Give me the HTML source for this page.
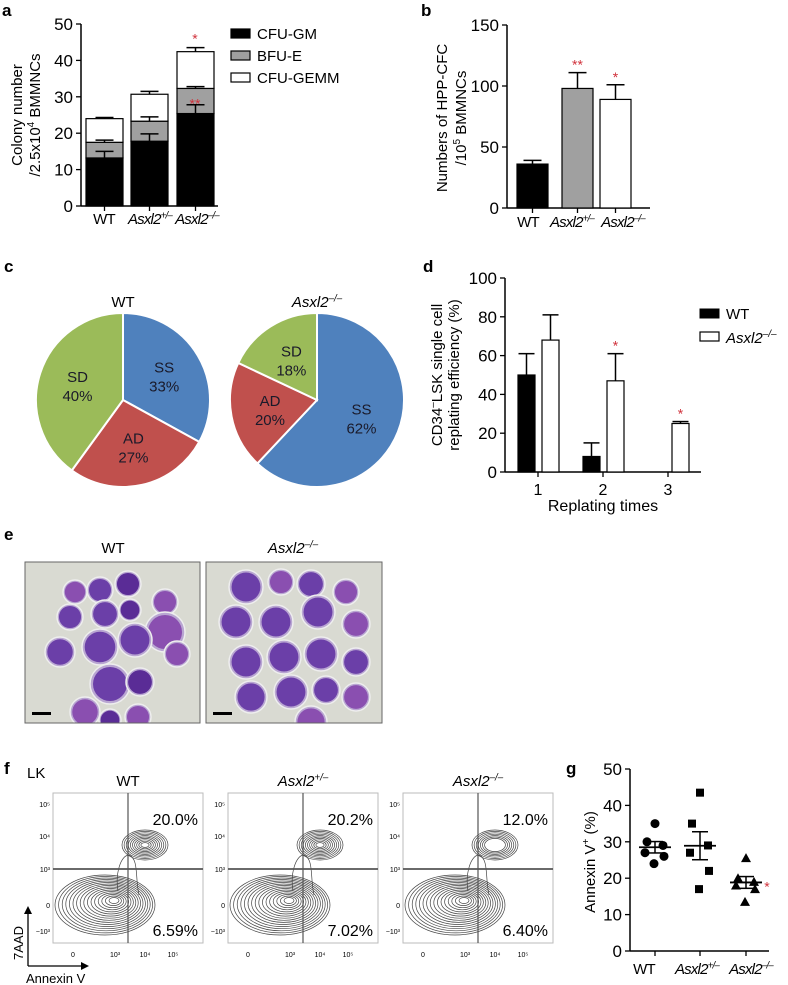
<!DOCTYPE html>
<html><head><meta charset="utf-8"><style>
body{margin:0;background:#fff}
svg{display:block;font-family:"Liberation Sans",Arial,sans-serif}
</style></head><body>
<svg id="fig" width="788" height="985" viewBox="0 0 788 985" xmlns="http://www.w3.org/2000/svg">
<defs>
<clipPath id="clipWT"><rect x="25" y="562" width="175" height="161"/></clipPath>
<clipPath id="clipKO"><rect x="206" y="562" width="176" height="161"/></clipPath>
</defs>
<g font-weight="bold" font-size="17">
<text x="2" y="16">a</text>
<text x="421" y="16">b</text>
<text x="4" y="272">c</text>
<text x="423" y="272">d</text>
<text x="4" y="540">e</text>
<text x="4" y="774">f</text>
<text x="566" y="774">g</text>
</g>
<g id="ga"></g><g id="gb"></g><g id="gc"></g><g id="gd"></g><g id="ge"></g><g id="gf"></g><g id="gg"></g>
</svg>
<script>
// Panel a data
const aCats=["WT","Asxl2+/-","Asxl2-/-"];
const aGM=[13.2,17.8,25.4];
const aBFU=[4.3,5.5,6.9];
const aGEMM=[6.5,7.4,10.1];
const aErrGM=[1.8,2.0,2.4];
const aErrBFU=[0.6,1.2,0.5];
const aErrGEMM=[0.3,0.8,1.1];
const aTicks=[0,10,20,30,40,50];
// Panel b
const bVals=[36,98,89];
const bErr=[3,13,12];
const bTicks=[0,50,100,150];
// Panel c
const cLabels=["SS","AD","SD"];
const cWT=[33,27,40];
const cKO=[62,20,18];
// Panel d
const dCats=[1,2,3];
const dWT=[50,8,0];
const dKO=[68,47,25];
const dErrWT=[11,7,0];
const dErrKO=[13,14,1];
const dTicks=[0,20,40,60,80,100];
// Panel f
const fTop=["20.0%","20.2%","12.0%"];
const fBot=["6.59%","7.02%","6.40%"];
// Panel g
const gWT=[35,30,29,27,26,24];
const gHet=[43.5,35,29,27,22,17];
const gKO=[25.5,20,19,18,17,13.5];
const gTicks=[0,10,20,30,40,50];

const NS="http://www.w3.org/2000/svg";
function el(parent,tag,attrs,text){const e=document.createElementNS(NS,tag);for(const k in attrs)e.setAttribute(k,attrs[k]);if(text!==undefined)e.textContent=text;parent.appendChild(e);return e;}
function genoLabel(parent,x,y,g,fs,ls){
  const t=el(parent,'text',{x:x,y:y,'font-size':fs,'text-anchor':'middle','letter-spacing':ls||0});
  if(g==="WT"){t.textContent="WT";}else{
    el(t,'tspan',{'font-style':'italic'},'Asxl2');
    el(t,'tspan',{'font-style':'italic','font-size':fs*0.65,dy:-fs*0.38},g==="+/-"?"+/\u2013":"\u2013/\u2013");
  }
  return t;
}
function star(parent,x,y,s){const t=el(parent,'text',{x:x,y:y,fill:'#d0303a','font-size':14,'text-anchor':'middle'},s);}

// ---------- Panel a
(function(){
const g=document.getElementById('ga');
const x0=81,yb=206,yt=24,ymax=50;
const Y=v=>yb-(v/ymax)*(yb-yt);
const bx=[86,131,177],bw=37;
aTicks.forEach(t=>{el(g,'line',{x1:x0-5,x2:x0,y1:Y(t),y2:Y(t),stroke:'#000','stroke-width':1.3});el(g,'text',{x:x0-8,y:Y(t)+6,'font-size':17,'text-anchor':'end'},t);});
el(g,'line',{x1:x0,x2:x0,y1:yt,y2:yb,stroke:'#000','stroke-width':1.5});
el(g,'line',{x1:x0,x2:218,y1:yb,y2:yb,stroke:'#000','stroke-width':1.5});
const yl=el(g,'text',{transform:'translate(22,115) rotate(-90)','font-size':15,'text-anchor':'middle'},'Colony number');

const yl2=el(g,'text',{transform:'translate(40,115) rotate(-90)','font-size':15,'text-anchor':'middle'});
el(yl2,'tspan',{},'/2.5x10');el(yl2,'tspan',{'font-size':10,dy:-6},'4');el(yl2,'tspan',{dy:6},' BMMNCs');
function eb(cx,v,e){el(g,'line',{x1:cx,x2:cx,y1:Y(v),y2:Y(v+e),stroke:'#000','stroke-width':1.5});el(g,'line',{x1:cx-9,x2:cx+9,y1:Y(v+e),y2:Y(v+e),stroke:'#000','stroke-width':1.5});}
aCats.forEach((c,i)=>{
  const x=bx[i],cx=x+bw/2;
  el(g,'line',{x1:cx,x2:cx,y1:yb,y2:yb+5,stroke:'#000','stroke-width':1.3});
  const s1=aGM[i],s2=s1+aBFU[i],s3=s2+aGEMM[i];
  const r1=el(g,'rect',{x:x,y:Y(s1),width:bw,height:Y(0)-Y(s1),fill:'#000',stroke:'#000','stroke-width':1.2});
  
  const r2=el(g,'rect',{x:x,y:Y(s2),width:bw,height:Y(s1)-Y(s2),fill:'#a0a0a0',stroke:'#000','stroke-width':1.2});
  
  const r3=el(g,'rect',{x:x,y:Y(s3),width:bw,height:Y(s2)-Y(s3),fill:'#fff',stroke:'#000','stroke-width':1.2});
  
  eb(cx,s1,aErrGM[i]);eb(cx,s2,aErrBFU[i]);eb(cx,s3,aErrGEMM[i]);
  const t=genoLabel(g,[104,150,197][i],224,["WT","+/-","-/-"][i],15,-0.8);
  
});
star(g,195,Y(aGM[2]+aBFU[2])+20,'**');
star(g,195,Y(aGM[2]+aBFU[2]+aGEMM[2]+aErrGEMM[2])-4,'*');
[['CFU-GM','#000'],['BFU-E','#a0a0a0'],['CFU-GEMM','#fff']].forEach((l,i)=>{
  const lg=el(g,'g',{});
  el(lg,'rect',{x:231,y:29+i*22,width:19,height:9,fill:l[1],stroke:'#000','stroke-width':1.2});
  el(lg,'text',{x:257,y:39+i*22,'font-size':15},l[0]);
});
})();

// ---------- Panel b
(function(){
const g=document.getElementById('gb');
const x0=507,yb=208,yt=25,ymax=150;
const Y=v=>yb-(v/ymax)*(yb-yt);
const bx=[517,562,600],bw=31,fills=['#000','#a0a0a0','#fff'];
bTicks.forEach(t=>{el(g,'line',{x1:x0-5,x2:x0,y1:Y(t),y2:Y(t),stroke:'#000','stroke-width':1.3});el(g,'text',{x:x0-8,y:Y(t)+6,'font-size':17,'text-anchor':'end'},t);});
el(g,'line',{x1:x0,x2:x0,y1:yt,y2:yb,stroke:'#000','stroke-width':1.5});
el(g,'line',{x1:x0,x2:650,y1:yb,y2:yb,stroke:'#000','stroke-width':1.5});
const t1=el(g,'text',{transform:'translate(447,118) rotate(-90)','font-size':15,'text-anchor':'middle'},'Numbers of HPP-CFC');

const t2=el(g,'text',{transform:'translate(466,118) rotate(-90)','font-size':15,'text-anchor':'middle'});
el(t2,'tspan',{},'/10');el(t2,'tspan',{'font-size':10,dy:-6},'5');el(t2,'tspan',{dy:6},' BMMNCs');
bVals.forEach((v,i)=>{
  const cx=bx[i]+bw/2;
  el(g,'line',{x1:cx,x2:cx,y1:Y(v),y2:Y(v+bErr[i]),stroke:'#000','stroke-width':1.5});
  el(g,'line',{x1:cx-9,x2:cx+9,y1:Y(v+bErr[i]),y2:Y(v+bErr[i]),stroke:'#000','stroke-width':1.5});
  const r=el(g,'rect',{x:bx[i],y:Y(v),width:bw,height:Y(0)-Y(v),fill:fills[i],stroke:'#000','stroke-width':1.2});
  
  el(g,'line',{x1:cx,x2:cx,y1:yb,y2:yb+5,stroke:'#000','stroke-width':1.3});
  const t=genoLabel(g,[528,572,623][i],227,["WT","+/-","-/-"][i],15,-0.8);
  
});
star(g,bx[1]+bw/2,Y(bVals[1]+bErr[1])-3,'**');
star(g,bx[2]+bw/2,Y(bVals[2]+bErr[2])-3,'*');
})();

// ---------- Panel c
(function(){
const g=document.getElementById('gc');
const cols=['#4f81bd','#c0504d','#9bbb59'];
function pie(cx,cy,r,vals,geno,name){
  const pg=el(g,'g',{});
  let a=0;const tot=vals.reduce((s,v)=>s+v,0);
  vals.forEach((v,i)=>{
    const a1=a+v/tot*2*Math.PI;
    const p=(ang)=>[cx+r*Math.sin(ang),cy-r*Math.cos(ang)];
    const [x1,y1]=p(a),[x2,y2]=p(a1);
    const s=el(pg,'path',{d:`M${cx},${cy}L${x1},${y1}A${r},${r} 0 ${v/tot>0.5?1:0} 1 ${x2},${y2}Z`,fill:cols[i],stroke:'#fff','stroke-width':2});
    
    const m=(a+a1)/2,lr=r*0.55;
    el(pg,'text',{x:cx+lr*Math.sin(m),y:cy-lr*Math.cos(m)-3,'font-size':15,'text-anchor':'middle',fill:'#1a1a2a'},cLabels[i]);
    el(pg,'text',{x:cx+lr*Math.sin(m),y:cy-lr*Math.cos(m)+16,'font-size':15,'text-anchor':'middle',fill:'#1a1a2a'},v+'%');
    a=a1;
  });
  const t=genoLabel(g,cx,307,geno,15);
}
pie(123,400,87,cWT,'WT','pie-wt');
pie(317,400,87,cKO,'-/-','pie-asxl2-ko');
})();

// ---------- Panel d
(function(){
const g=document.getElementById('gd');
const x0=505,yb=472,ymax=100,ppu=1.94;
const Y=v=>yb-v*ppu;
const X=c=>538+(c-1)*65;
dTicks.forEach(t=>{el(g,'line',{x1:x0-5,x2:x0,y1:Y(t),y2:Y(t),stroke:'#000','stroke-width':1.3});el(g,'text',{x:x0-8,y:Y(t)+6,'font-size':17,'text-anchor':'end'},t);});
el(g,'line',{x1:x0,x2:x0,y1:Y(100),y2:yb,stroke:'#000','stroke-width':1.5});
el(g,'line',{x1:x0,x2:701,y1:yb,y2:yb,stroke:'#000','stroke-width':1.5});
dCats.forEach((c,i)=>{
  el(g,'line',{x1:X(c),x2:X(c),y1:yb,y2:yb+5,stroke:'#000','stroke-width':1.3});
  el(g,'text',{x:X(c),y:yb+23,'font-size':16,'text-anchor':'middle'},c);
  [[dWT,dErrWT,'#000',-20,'bar-wt'],[dKO,dErrKO,'#fff',4,'bar-asxl2-ko']].forEach(([vals,errs,f,off,nm])=>{
    const v=vals[i];if(v<=0)return;const bx=X(c)+off,cx=bx+8.5;
    if(errs[i]>0){el(g,'line',{x1:cx,x2:cx,y1:Y(v),y2:Y(v+errs[i]),stroke:'#000','stroke-width':1.5});
    el(g,'line',{x1:cx-8,x2:cx+8,y1:Y(v+errs[i]),y2:Y(v+errs[i]),stroke:'#000','stroke-width':1.5});}
    const r=el(g,'rect',{x:bx,y:Y(v),width:17,height:v*ppu,fill:f,stroke:'#000','stroke-width':1.2});
    
  });
});
star(g,X(2)+12.5,Y(dKO[1]+dErrKO[1])-3,'*');
star(g,X(3)+12.5,Y(dKO[2]+dErrKO[2])-3,'*');
const xt=el(g,'text',{x:603,y:511,'font-size':16,'text-anchor':'middle'},'Replating times');

const y1=el(g,'text',{transform:'translate(442,375) rotate(-90)','font-size':15,'text-anchor':'middle'});
el(y1,'tspan',{},'CD34');el(y1,'tspan',{'font-size':10,dy:-6},'\u2013');el(y1,'tspan',{dy:6},'LSK single cell');

el(g,'text',{transform:'translate(459,375) rotate(-90)','font-size':15,'text-anchor':'middle'},'replating efficiency (%)');
const l1=el(g,'g',{});
el(l1,'rect',{x:700,y:309,width:19,height:9,fill:'#000',stroke:'#000'});el(l1,'text',{x:726,y:319,'font-size':15},'WT');
const l2=el(g,'g',{});
el(l2,'rect',{x:700,y:332,width:19,height:9,fill:'#fff',stroke:'#000','stroke-width':1.2});
const lt=el(l2,'text',{x:726,y:343,'font-size':15});el(lt,'tspan',{'font-style':'italic'},'Asxl2');el(lt,'tspan',{'font-style':'italic','font-size':10,dy:-6},'\u2013/\u2013');
})();

// ---------- Panel e (micrographs)
(function(){
const g=document.getElementById('ge');
function img(x,y,w,h,cells,name,clip){
  const ig=el(g,'g',{});
  el(ig,'rect',{x:x,y:y,width:w,height:h,fill:'#d9dad2'});
  const cg=el(ig,'g',{'clip-path':'url(#'+clip+')'});
  cells.forEach(c=>{
    el(cg,'circle',{cx:x+c[0],cy:y+c[1],r:c[2],fill:'#b9a6d2',stroke:'#eee','stroke-width':1.5});
    el(cg,'circle',{cx:x+c[0],cy:y+c[1],r:c[2]*0.85,fill:c[3]||'#6b3fa8'});
  });
  el(ig,'rect',{x:x,y:y,width:w,height:h,fill:'none',stroke:'#666','stroke-width':1});
  el(ig,'rect',{x:x+7,y:y+h-11,width:19,height:3,fill:'#000'});
}
img(25,562,175,161,[[50,30,12,'#8a4fb0'],[75,28,13],[103,22,13,'#5a2c96'],[45,55,13],[80,52,14],[105,48,11,'#5a2c96'],[140,40,13,'#8a4fb0'],[140,70,20,'#8a4fb0'],[110,78,17],[75,85,18],[35,90,15],[85,122,20],[115,120,14,'#5a2c96'],[60,150,15,'#8a4fb0'],[85,158,11,'#5a2c96'],[113,155,13,'#8a4fb0'],[152,92,13,'#8a4fb0']],'micrograph-wt','clipWT');
img(206,562,176,161,[[40,25,17],[75,20,13,'#8a4fb0'],[105,22,14],[140,30,13,'#8a4fb0'],[30,60,17],[70,60,17],[112,50,17],[150,62,14,'#8a4fb0'],[40,100,17],[78,95,17],[115,92,17],[150,100,14],[45,135,16],[85,130,17],[120,128,14],[150,135,14,'#8a4fb0'],[105,160,16,'#8a4fb0']],'micrograph-asxl2-ko','clipKO');
const t1=el(g,'text',{x:113,y:553,'font-size':15,'text-anchor':'middle'},'WT');
const t2=genoLabel(g,293,553,'-/-',15);
})();

// ---------- Panel f (flow plots)
(function(){
const g=document.getElementById('gf');
el(g,'text',{x:27,y:778,'font-size':15},'LK');
const bx=[53,228,403],bw=150,by=793,bh=150;
const genos=['WT','+/-','-/-'];
bx.forEach((x,i)=>{
  const pg=el(g,'g',{});
  el(pg,'rect',{x:x,y:by,width:bw,height:bh,fill:'#fff',stroke:'#bbb'});
  const cx=x+52,cy=by+112;
  for(let k=0;k<16;k++){el(pg,'ellipse',{cx:cx+k*0.6,cy:cy-k*0.3,rx:50-k*3,ry:30-k*1.8,fill:'none',stroke:'#444','stroke-width':0.7});}
  const n=i==2?7:10;
  for(let k=0;k<n;k++){el(pg,'ellipse',{cx:x+92,cy:by+52,rx:23-k*2.1,ry:15-k*1.4,fill:'none',stroke:'#444','stroke-width':0.7});}
  el(pg,'path',{d:`M${x+65},${by+98} C${x+62},${by+80} ${x+68},${by+62} ${x+76},${by+62} C${x+86},${by+66} ${x+82},${by+85} ${x+86},${by+102}`,fill:'none',stroke:'#444','stroke-width':0.7});
  el(pg,'line',{x1:x+75,x2:x+75,y1:by,y2:by+bh,stroke:'#555','stroke-width':1.2});
  el(pg,'line',{x1:x,x2:x+bw,y1:by+76,y2:by+76,stroke:'#555','stroke-width':1.8});
  el(pg,'text',{x:x+145,y:by+32,'font-size':16,'text-anchor':'end'},fTop[i]);
  el(pg,'text',{x:x+145,y:by+143,'font-size':16,'text-anchor':'end'},fBot[i]);
  [['10\u2075',11],['10\u2074',43],['10\u00b3',76],['0',112],['\u221210\u00b3',138]].forEach(l=>el(pg,'text',{x:x-3,y:by+l[1]+3,'font-size':7,'text-anchor':'end'},l[0]));
  [['0',20],['10\u00b3',62],['10\u2074',92],['10\u2075',120]].forEach(l=>el(pg,'text',{x:x+l[1],y:by+bh+14,'font-size':7,'text-anchor':'middle'},l[0]));
  const t=genoLabel(g,x+75,786,genos[i],15);
});
el(g,'line',{x1:28,x2:28,y1:912,y2:966,stroke:'#000','stroke-width':1.3});
el(g,'path',{d:'M24,914 L28,906 L32,914Z',fill:'#000'});
el(g,'line',{x1:28,x2:82,y1:966,y2:966,stroke:'#000','stroke-width':1.3});
el(g,'path',{d:'M81,962 L89,966 L81,970Z',fill:'#000'});
el(g,'text',{transform:'translate(23,960) rotate(-90)','font-size':13},'7AAD');
el(g,'text',{x:26,y:983,'font-size':13},'Annexin V');
})();

// ---------- Panel g
(function(){
const g=document.getElementById('gg');
const x0=630,yb=951,yt=769,ymax=50;
const Y=v=>yb-(v/ymax)*(yb-yt);
gTicks.forEach(t=>{el(g,'line',{x1:x0-5,x2:x0,y1:Y(t),y2:Y(t),stroke:'#000','stroke-width':1.3});el(g,'text',{x:x0-8,y:Y(t)+6,'font-size':17,'text-anchor':'end'},t);});
el(g,'line',{x1:x0,x2:x0,y1:yt,y2:yb,stroke:'#000','stroke-width':1.5});
el(g,'line',{x1:x0,x2:769,y1:yb,y2:yb,stroke:'#000','stroke-width':1.5});
const yl=el(g,'text',{transform:'translate(595,862) rotate(-90)','font-size':15,'text-anchor':'middle'});
el(yl,'tspan',{},'Annexin V');el(yl,'tspan',{'font-size':10,dy:-6},'+');el(yl,'tspan',{dy:6},' (%)');

const cxs=[655,700,746],offs=[0,-8,8,-10,9,-1];
[gWT,gHet,gKO].forEach((arr,i)=>{
  const cx=cxs[i];
  el(g,'line',{x1:cx,x2:cx,y1:yb,y2:yb+5,stroke:'#000','stroke-width':1.3});
  arr.forEach((v,j)=>{
    const px=cx+offs[j],py=Y(v);let m;
    if(i==0)m=el(g,'circle',{cx:px,cy:py,r:4.5,fill:'#000'});
    else if(i==1)m=el(g,'rect',{x:px-4,y:py-4,width:8,height:8,fill:'#000'});
    else m=el(g,'path',{d:`M${px},${py-5}L${px+5},${py+4}L${px-5},${py+4}Z`,fill:'#000'});
    
  });
  const mean=arr.reduce((s,v)=>s+v,0)/arr.length;
  const sd=Math.sqrt(arr.reduce((s,v)=>s+(v-mean)**2,0)/(arr.length-1)),se=sd/Math.sqrt(arr.length);
  el(g,'line',{x1:cx-16,x2:cx+16,y1:Y(mean),y2:Y(mean),stroke:'#000','stroke-width':1.8});
  el(g,'line',{x1:cx,x2:cx,y1:Y(mean-se),y2:Y(mean+se),stroke:'#000','stroke-width':1.5});
  el(g,'line',{x1:cx-8,x2:cx+8,y1:Y(mean-se),y2:Y(mean-se),stroke:'#000','stroke-width':1.5});
  el(g,'line',{x1:cx-8,x2:cx+8,y1:Y(mean+se),y2:Y(mean+se),stroke:'#000','stroke-width':1.5});
  const t=genoLabel(g,[644,697,751][i],974,["WT","+/-","-/-"][i],15,-0.8);
  
});
star(g,767,Y(18)+6,'*');
})();
</script>
</body></html>
